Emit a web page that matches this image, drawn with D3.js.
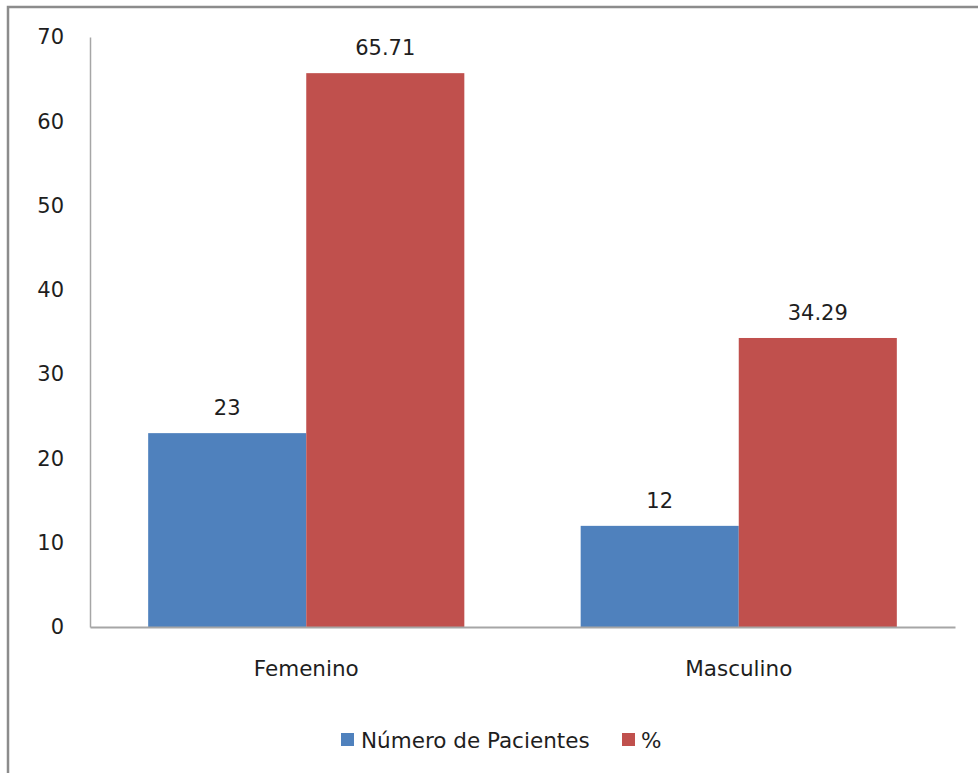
<!DOCTYPE html>
<html>
<head>
<meta charset="utf-8">
<script src="https://cdn.jsdelivr.net/npm/d3@7"></script>
<style>
  html, body { margin: 0; padding: 0; background: #fff; }
  svg { display: block; }
</style>
</head>
<body>
<svg id="chart" width="978" height="773"></svg>
<script>
// Patients by sex: count and percentage
const categories = ["Femenino", "Masculino"];
const seriesNames = ["Número de Pacientes", "%"];
const pacientes = [23, 12];
const porcentaje = [65.71, 34.29];
const valueLabels = [["23", "12"], ["65.71", "34.29"]];
const yTicks = [0, 10, 20, 30, 40, 50, 60, 70];

const colors = ["#4F81BD", "#C0504D"];
const series = [pacientes, porcentaje];

const svg = d3.select("#chart");
const W = 978, H = 773;

// outer frame
svg.append("rect")
  .attr("x", 8).attr("y", 7)
  .attr("width", W + 10).attr("height", H + 10)
  .attr("fill", "none").attr("stroke", "#8c8c8c").attr("stroke-width", 2.5);

const plot = { left: 90, right: 955, top: 37, bottom: 627 };

const x = d3.scaleBand().domain(categories).range([plot.left, plot.right]).paddingInner(0).paddingOuter(0);
const y = d3.scaleLinear().domain([0, 70]).range([plot.bottom, plot.top]);

const groupInset = 0.1345; // fraction of band left empty each side
const x1 = d3.scaleBand().domain(d3.range(series.length))
  .range([x.bandwidth() * groupInset, x.bandwidth() * (1 - groupInset)]).padding(0);

const fontMain = "DejaVu Sans, Verdana, sans-serif";
const textColor = "#1e1e1e";

// bars
const g = svg.append("g");
series.forEach((vals, si) => {
  g.selectAll(null).data(categories).enter().append("rect")
    .attr("x", c => x(c) + x1(si))
    .attr("y", (c, i) => y(vals[i]))
    .attr("width", x1.bandwidth())
    .attr("height", (c, i) => y(0) - y(vals[i]))
    .attr("fill", colors[si]);
  g.selectAll(null).data(categories).enter().append("text")
    .attr("x", c => x(c) + x1(si) + x1.bandwidth() / 2)
    .attr("y", (c, i) => y(vals[i]) - 18)
    .attr("text-anchor", "middle")
    .attr("font-family", fontMain).attr("font-size", 21).attr("fill", textColor)
    .text((c, i) => valueLabels[si][i]);
});

// y axis
const yAxis = d3.axisLeft(y).tickValues(yTicks).tickSize(0).tickPadding(26);
const ya = svg.append("g").attr("transform", `translate(${plot.left},0)`).call(yAxis);
ya.select(".domain").attr("stroke", "#a6a6a6").attr("stroke-width", 1.5);
ya.selectAll("text").attr("font-family", fontMain).attr("font-size", 21).attr("fill", textColor);

// x axis
const xAxis = d3.axisBottom(x).tickSize(0).tickPadding(34);
const xa = svg.append("g").attr("transform", `translate(0,${plot.bottom})`).call(xAxis);
xa.select(".domain").attr("stroke", "#a6a6a6").attr("stroke-width", 2);
xa.selectAll("text").attr("font-family", fontMain).attr("font-size", 21.5).attr("fill", textColor);

// legend
const legend = svg.append("g");
const legendItems = [
  { name: seriesNames[0], color: colors[0], sx: 341, tx: 361 },
  { name: seriesNames[1], color: colors[1], sx: 622, tx: 641 }
];
legendItems.forEach(d => {
  legend.append("rect").attr("x", d.sx).attr("y", 733).attr("width", 13).attr("height", 13).attr("fill", d.color);
  legend.append("text").attr("x", d.tx).attr("y", 747.5)
    .attr("font-family", fontMain).attr("font-size", 21.5).attr("fill", textColor)
    .text(d.name);
});
</script>
</body>
</html>
